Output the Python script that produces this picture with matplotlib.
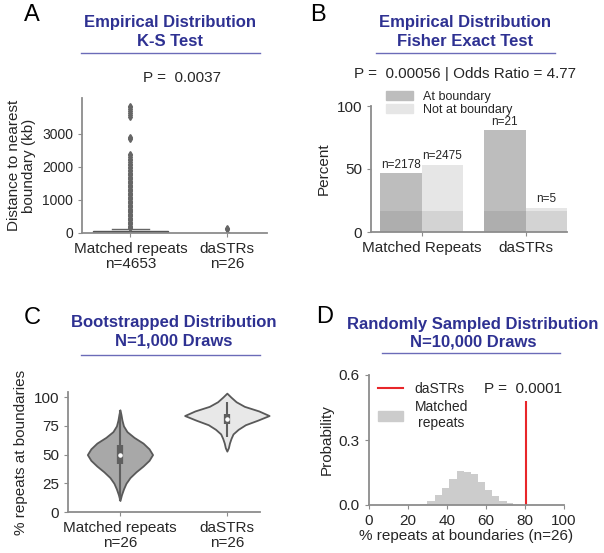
import numpy as np
import matplotlib
matplotlib.use("Agg")
import matplotlib.pyplot as plt
from matplotlib.lines import Line2D
from matplotlib.patches import Patch

plt.rcParams['font.family'] = ['Liberation Sans', 'DejaVu Sans']

# ---- data ----
groups_a = ['Matched repeats\nn=4653', 'daSTRs\nn=26']
# box stats (kb)
box_matched = dict(q1=8, med=30, q3=65, whislo=0, whishi=130)
box_dastr = dict(q1=5, med=15, q3=40, whislo=0, whishi=100)
fliers_matched = [140, 180, 220, 260, 300, 340, 380, 420, 460, 500, 540, 580,
                  620, 660, 700, 740, 780, 820, 860, 900, 940, 980, 1020, 1060,
                  1100, 1140, 1180, 1220, 1260, 1300, 1340, 1380, 1420, 1460,
                  1500, 1540, 1580, 1620, 1660, 1700, 1740, 1780, 1820, 1860,
                  1900, 1950, 2000, 2050, 2100, 2150, 2200, 2250, 2300, 2350,
                  2400, 2850, 2880, 2910, 3500, 3560, 3620, 3680, 3740, 3800, 3850]
fliers_dastr = [110, 130, 150]

groups_b = ['Matched Repeats', 'daSTRs']
at_boundary = [2178, 21]
not_boundary = [2475, 5]
overlay_pct = 17

groups_c = ['Matched repeats\nn=26', 'daSTRs\nn=26']
violin_y_matched = [10, 15, 20, 25, 30, 35, 40, 45, 50, 55, 60, 65, 70, 75, 80, 85, 89]
violin_d_matched = [0, 1.5, 3.5, 6, 10, 16, 23, 29, 32.5, 29, 23, 14, 7, 3.5, 2, 1, 0]
violin_y_dastr = [53, 56, 60, 64, 68, 72, 76, 80, 84, 88, 92, 96, 100, 103.5]
violin_d_dastr = [0, 1.5, 2.5, 4, 6, 11, 18, 30, 41, 31, 17, 9, 4, 0]
inner_matched = dict(lo=10, q1=42, med=50, q3=58, hi=89)
inner_dastr = dict(lo=65, q1=77, med=81, q3=85, hi=96)

hist_edges = [26, 30, 33.8, 37.6, 41.2, 45, 48.6, 52.2, 55.8, 59.5, 63.2, 66.8, 70.6, 74, 77.6]
hist_probs = [0.004, 0.017, 0.046, 0.08, 0.12, 0.155, 0.153, 0.142, 0.105, 0.071,
              0.042, 0.018, 0.008, 0.002]
dastr_pct = 21 / 26 * 100

W, H = 604, 553
fig = plt.figure(figsize=(W / 100, H / 100), dpi=100)

def box(l, t, r, b):
    return [l / W, 1 - b / H, (r - l) / W, (b - t) / H]

spine_c = '#8c8c8c'
text_c = '#262626'
title_c = '#2e3192'
line_c = '#6b6bb8'

def style(ax, fs_x=11, fs_y=11):
    for s in ['top', 'right']:
        ax.spines[s].set_visible(False)
    for s in ['left', 'bottom']:
        ax.spines[s].set_color(spine_c)
        ax.spines[s].set_linewidth(1.3)
    ax.tick_params(axis='x', colors=spine_c, labelcolor=text_c, labelsize=fs_x, length=3)
    ax.tick_params(axis='y', colors=spine_c, labelcolor=text_c, labelsize=fs_y, length=3)

def title(x, y, lines, l, r, yl):
    fig.text(x / W, 1 - y / H, lines, color=title_c, fontsize=12, fontweight='bold',
             ha='center', va='center', linespacing=1.25)
    fig.add_artist(Line2D([l / W, r / W], [1 - yl / H, 1 - yl / H],
                          color=line_c, lw=1, transform=fig.transFigure))

# ---- A ----
axA = fig.add_axes(box(82, 98, 267, 233))
stats = [dict(box_matched, fliers=fliers_matched), dict(box_dastr, fliers=fliers_dastr)]
bp = axA.bxp(stats, positions=[0, 1], widths=[0.78, 0.03], patch_artist=True,
             flierprops=dict(marker='d', markersize=3, markerfacecolor='#666666',
                             markeredgecolor='#666666'),
             medianprops=dict(color='#555555', lw=1),
             whiskerprops=dict(color='#666666', lw=1),
             capprops=dict(color='#666666', lw=1),
             boxprops=dict(edgecolor='#555555', lw=1))
for p in bp['boxes']:
    p.set_facecolor('#7a7a7a')
axA.set_xlim(-0.5, 1.41)
axA.set_ylim(0, 4080)
axA.set_yticks([0, 1000, 2000, 3000])
axA.set_xticks([0, 1])
axA.set_xticklabels(groups_a, linespacing=1.1)
axA.set_ylabel('Distance to nearest\nboundary (kb)', fontsize=11, color=text_c, linespacing=1.1)
style(axA, 11, 10)
title(170, 32, 'Empirical Distribution\nK-S Test', 81, 260, 53)
fig.text(182 / W, 1 - 78 / H, 'P =  0.0037', fontsize=11, ha='center', va='center', color=text_c)
fig.text(32 / W, 1 - 15 / H, 'A', fontsize=17, ha='center', va='center')

# ---- B ----
axB = fig.add_axes(box(371, 106, 567, 232))
x = np.arange(len(groups_b))
tot = np.array(at_boundary) + np.array(not_boundary)
pct_at = np.array(at_boundary) / tot * 100
pct_not = np.array(not_boundary) / tot * 100
axB.bar(x - 0.2, pct_at, width=0.4, color='#bdbdbd')
axB.bar(x + 0.2, pct_not, width=0.4, color='#e6e6e6')
axB.bar(np.concatenate([x - 0.2, x + 0.2]), [overlay_pct] * 4, width=0.4, color='k', alpha=0.08)
for xi, v, n in zip(x - 0.2, pct_at, at_boundary):
    axB.text(xi, v + 2, f'n={n}', ha='center', va='bottom', fontsize=8.5, color=text_c)
for xi, v, n in zip(x + 0.2, pct_not, not_boundary):
    axB.text(xi, v + 2, f'n={n}', ha='center', va='bottom', fontsize=8.5, color=text_c)
axB.set_xlim(-0.49, 1.4)
axB.set_ylim(0, 100)
axB.set_yticks([0, 50, 100])
axB.set_xticks(x)
axB.set_xticklabels(groups_b)
axB.set_ylabel('Percent', fontsize=11, color=text_c)
style(axB, 11, 11)
axB.legend(handles=[Patch(color='#bdbdbd'), Patch(color='#e6e6e6')],
           labels=['At boundary', 'Not at boundary'], loc='upper left',
           bbox_to_anchor=(0.05, 1.16), frameon=False, fontsize=9,
           handlelength=2.2, handleheight=0.8, labelspacing=0.05, handletextpad=0.8,
           borderaxespad=0, labelcolor=text_c)
title(465, 32, 'Empirical Distribution\nFisher Exact Test', 376, 555, 53)
fig.text(465 / W, 1 - 74 / H, 'P =  0.00056 | Odds Ratio = 4.77', fontsize=11,
         ha='center', va='center', color=text_c)
fig.text(318 / W, 1 - 15 / H, 'B', fontsize=17, ha='center', va='center')

# ---- C ----
axC = fig.add_axes(box(68, 392, 260, 512))
vp = [dict(coords=violin_y_matched, vals=violin_d_matched, mean=inner_matched['med'],
           median=inner_matched['med'], min=violin_y_matched[0], max=violin_y_matched[-1],
           quantiles=[]),
      dict(coords=violin_y_dastr, vals=violin_d_dastr, mean=inner_dastr['med'],
           median=inner_dastr['med'], min=violin_y_dastr[0], max=violin_y_dastr[-1],
           quantiles=[])]
parts = axC.violin(vp, positions=[0, 1], widths=[0.61, 0.79],
                   showmeans=False, showextrema=False, showmedians=False)
for body, fc in zip(parts['bodies'], ['#a8a8a8', '#e8e8e8']):
    body.set_facecolor(fc)
    body.set_edgecolor('#595959')
    body.set_linewidth(1.3)
    body.set_alpha(1)
    body.set_clip_on(False)
for pos, inner in zip([0, 1], [inner_matched, inner_dastr]):
    axC.vlines(pos, inner['lo'], inner['hi'], color='#5f5f5f', lw=1.5, zorder=3)
    axC.vlines(pos, inner['q1'], inner['q3'], color='#5f5f5f', lw=4.5, zorder=3)
    axC.scatter([pos], [inner['med']], color='white', s=5, zorder=4)
axC.set_xlim(-0.486, 1.31)
axC.set_ylim(0, 104.5)
axC.set_yticks([0, 25, 50, 75, 100])
axC.set_xticks([0, 1])
axC.set_xticklabels(groups_c, linespacing=1.1)
axC.set_ylabel('% repeats at boundaries', fontsize=11, color=text_c)
style(axC, 11, 11)
title(174, 332, 'Bootstrapped Distribution\nN=1,000 Draws', 81, 260, 355)
fig.text(32 / W, 1 - 318 / H, 'C', fontsize=17, ha='center', va='center')

# ---- D ----
axD = fig.add_axes(box(369, 375, 564, 505))
axD.stairs(hist_probs, hist_edges, fill=True, color='#cccccc')
axD.vlines(dastr_pct, 0, 0.48, color='#e8262a', lw=1.5)
axD.set_xlim(0, 100)
axD.set_ylim(0, 0.6)
axD.set_yticks([0, 0.3, 0.6])
axD.set_xticks([0, 20, 40, 60, 80, 100])
axD.set_xlabel('% repeats at boundaries (n=26)', fontsize=11, color=text_c, labelpad=1)
axD.set_ylabel('Probability', fontsize=11, color=text_c)
style(axD, 11, 11)
leg = axD.legend(handles=[Line2D([], [], color='#e8262a', lw=1.5), Patch(color='#cccccc')],
                 labels=['daSTRs', 'Matched\nrepeats'], loc='upper left',
                 bbox_to_anchor=(0.02, 0.99), frameon=False, fontsize=10,
                 handlelength=1.8, labelspacing=0.3, handletextpad=0.8,
                 borderaxespad=0, labelcolor=text_c)
for t in leg.get_texts():
    t.set_multialignment('center')
axD.text(0.79, 0.89, 'P =  0.0001', transform=axD.transAxes, fontsize=11,
         ha='center', va='center', color=text_c)
title(473, 333, 'Randomly Sampled Distribution\nN=10,000 Draws', 382, 560, 353)
fig.text(325 / W, 1 - 317 / H, 'D', fontsize=17, ha='center', va='center')

fig.savefig('out.png', dpi=100)
